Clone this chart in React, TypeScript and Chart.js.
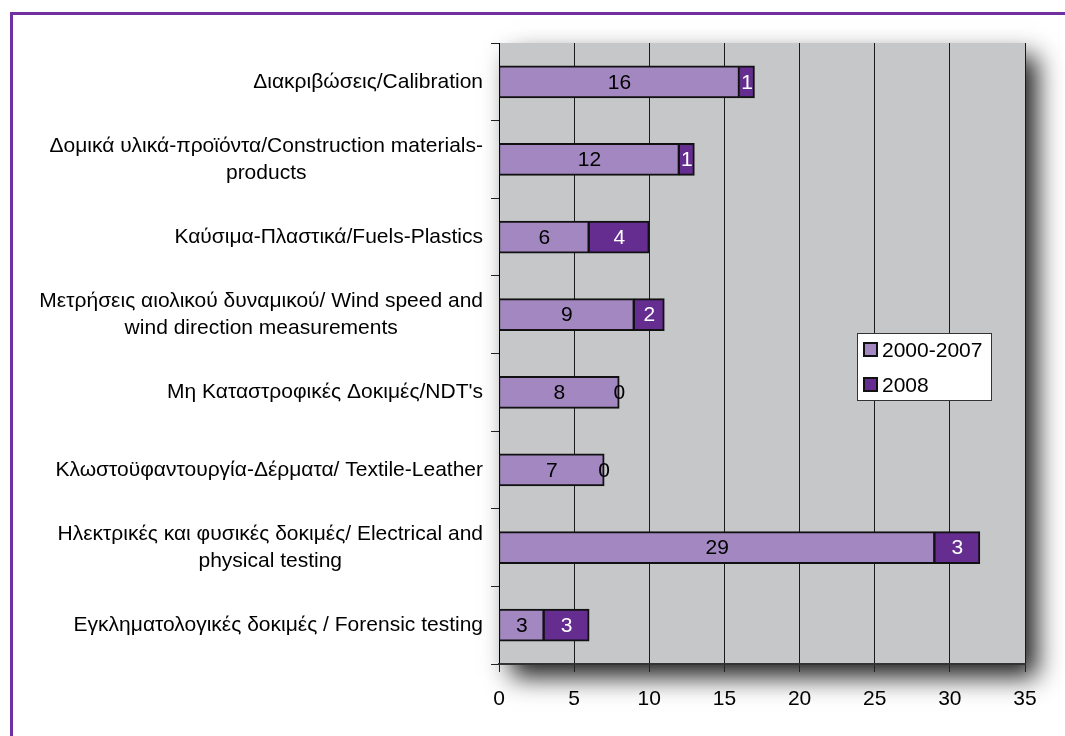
import React, { useEffect, useRef } from 'react';
import { Chart, registerables } from 'chart.js';

Chart.register(...registerables);

const categories: string[][] = [
  ['Διακριβώσεις/Calibration'],
  ['Δομικά υλικά-προϊόντα/Construction materials-', 'products'],
  ['Καύσιμα-Πλαστικά/Fuels-Plastics'],
  ['Μετρήσεις αιολικού δυναμικού/ Wind speed and', 'wind direction measurements'],
  ["Μη Καταστροφικές Δοκιμές/NDT's"],
  ['Κλωστοϋφαντουργία-Δέρματα/ Textile-Leather'],
  ['Ηλεκτρικές και φυσικές δοκιμές/ Electrical and', 'physical testing'],
  ['Εγκληματολογικές δοκιμές / Forensic testing'],
];
const series2000to2007: number[] = [16, 12, 6, 9, 8, 7, 29, 3];
const series2008: number[] = [1, 1, 4, 2, 0, 0, 3, 3];
const seriesNames: string[] = ['2000-2007', '2008'];
const xMin = 0;
const xMax = 35;
const xStep = 5;

const COLORS = ['#A287C0', '#662D91'];
const FONT_FAMILY = '"Liberation Sans", Arial, sans-serif';
const FONT_SIZE = 21;
const FONT = `${FONT_SIZE}px ${FONT_FAMILY}`;
const W = 1065;
const H = 736;

const decorPlugin = {
  id: 'decor',
  beforeDraw(chart: any) {
    const { ctx, chartArea: a } = chart;
    ctx.save();
    ctx.fillStyle = '#7030A0';
    ctx.fillRect(10, 12, 3, H - 12);
    ctx.fillRect(10, 12, W - 10, 3);
    ctx.shadowColor = 'rgba(0,0,0,0.88)';
    ctx.shadowBlur = 24;
    ctx.shadowOffsetX = 12;
    ctx.shadowOffsetY = 13;
    ctx.fillStyle = '#C6C7C9';
    ctx.fillRect(a.left, a.top, a.right - a.left, a.bottom - a.top);
    ctx.restore();

    // category labels: block right aligned, lines centred within block
    const yScale = chart.scales.y;
    ctx.save();
    ctx.font = FONT;
    ctx.fillStyle = '#000';
    ctx.textAlign = 'center';
    ctx.textBaseline = 'middle';
    const rightEdge = a.left - 16;
    const lineH = 27;
    categories.forEach((lines, i) => {
      const cy = yScale.getPixelForValue(i);
      const maxW = Math.max(...lines.map((l) => ctx.measureText(l).width));
      const cx = rightEdge - maxW / 2;
      const y0 = cy - ((lines.length - 1) * lineH) / 2;
      lines.forEach((l, j) => ctx.fillText(l, cx, y0 + j * lineH));
    });
    ctx.restore();
  },
  afterDatasetsDraw(chart: any) {
    const { ctx } = chart;
    ctx.save();
    ctx.font = FONT;
    ctx.textAlign = 'center';
    ctx.textBaseline = 'middle';
    chart.data.datasets.forEach((ds: any, di: number) => {
      const meta = chart.getDatasetMeta(di);
      meta.data.forEach((el: any, i: number) => {
        const v = ds.data[i];
        const cx = (el.x + el.base) / 2;
        ctx.fillStyle = di === 1 && v !== 0 ? '#fff' : '#000';
        ctx.fillText(String(v), cx, el.y + 1);
      });
    });
    ctx.restore();
  },
  afterDraw(chart: any) {
    const { ctx } = chart;
    ctx.save();
    const bx = 857, by = 333, bw = 135, bh = 68;
    ctx.fillStyle = '#fff';
    ctx.fillRect(bx, by, bw, bh);
    ctx.strokeStyle = '#333';
    ctx.lineWidth = 1;
    ctx.strokeRect(bx + 0.5, by + 0.5, bw - 1, bh - 1);
    ctx.font = FONT;
    ctx.textBaseline = 'middle';
    ctx.textAlign = 'left';
    const rows = [350, 385];
    seriesNames.forEach((name, i) => {
      const y = rows[i];
      ctx.fillStyle = COLORS[i];
      ctx.fillRect(864, y - 7, 13, 13);
      ctx.strokeStyle = '#111';
      ctx.lineWidth = 2;
      ctx.strokeRect(864, y - 7, 13, 13);
      ctx.fillStyle = '#000';
      ctx.fillText(name, 882, y + 1);
    });
    ctx.restore();
  },
};

export default function App() {
  const ref = useRef<HTMLCanvasElement | null>(null);
  useEffect(() => {
    if (!ref.current) return;
    const chart = new Chart(ref.current, {
      type: 'bar',
      data: {
        labels: categories.map((c) => c.join(' ')),
        datasets: [
          {
            label: seriesNames[0],
            data: series2000to2007,
            backgroundColor: COLORS[0],
            borderColor: '#111',
            borderWidth: { top: 2, bottom: 2, left: 1, right: 2 } as any,
            borderSkipped: false,
            barThickness: 32,
          },
          {
            label: seriesNames[1],
            data: series2008,
            backgroundColor: COLORS[1],
            borderColor: '#111',
            borderWidth: { top: 2, bottom: 2, left: 1, right: 2 } as any,
            borderSkipped: false,
            barThickness: 32,
          },
        ],
      },
      options: {
        indexAxis: 'y',
        responsive: false,
        animation: false,
        devicePixelRatio: 1,
        layout: { padding: { top: 43, right: 40, left: 0, bottom: 0 } },
        plugins: {
          legend: { display: false },
          tooltip: { enabled: false },
        },
        scales: {
          y: {
            stacked: true,
            ticks: { display: false },
            grid: {
              offset: true,
              drawOnChartArea: false,
              drawTicks: true,
              tickLength: 8,
              tickColor: '#222',
            },
            border: { display: true, color: '#000', width: 1 },
            afterFit: (s: any) => {
              s.width = 499;
            },
          },
          x: {
            stacked: true,
            min: xMin,
            max: xMax,
            ticks: {
              stepSize: xStep,
              color: '#000',
              font: { family: FONT_FAMILY, size: FONT_SIZE },
              padding: 15,
            },
            grid: {
              color: '#1a1a1a',
              lineWidth: 1,
              tickLength: 8,
              tickColor: '#222',
            },
            border: { display: true, color: '#333', width: 2 },
            afterFit: (s: any) => {
              s.height = 72;
            },
          },
        },
      },
      plugins: [decorPlugin],
    });
    return () => chart.destroy();
  }, []);
  return (
    <div style={{ position: 'absolute', left: 0, top: 0, width: W, height: H, background: '#fff' }}>
      <canvas ref={ref} width={W} height={H} style={{ width: W, height: H, display: 'block' }} />
    </div>
  );
}
